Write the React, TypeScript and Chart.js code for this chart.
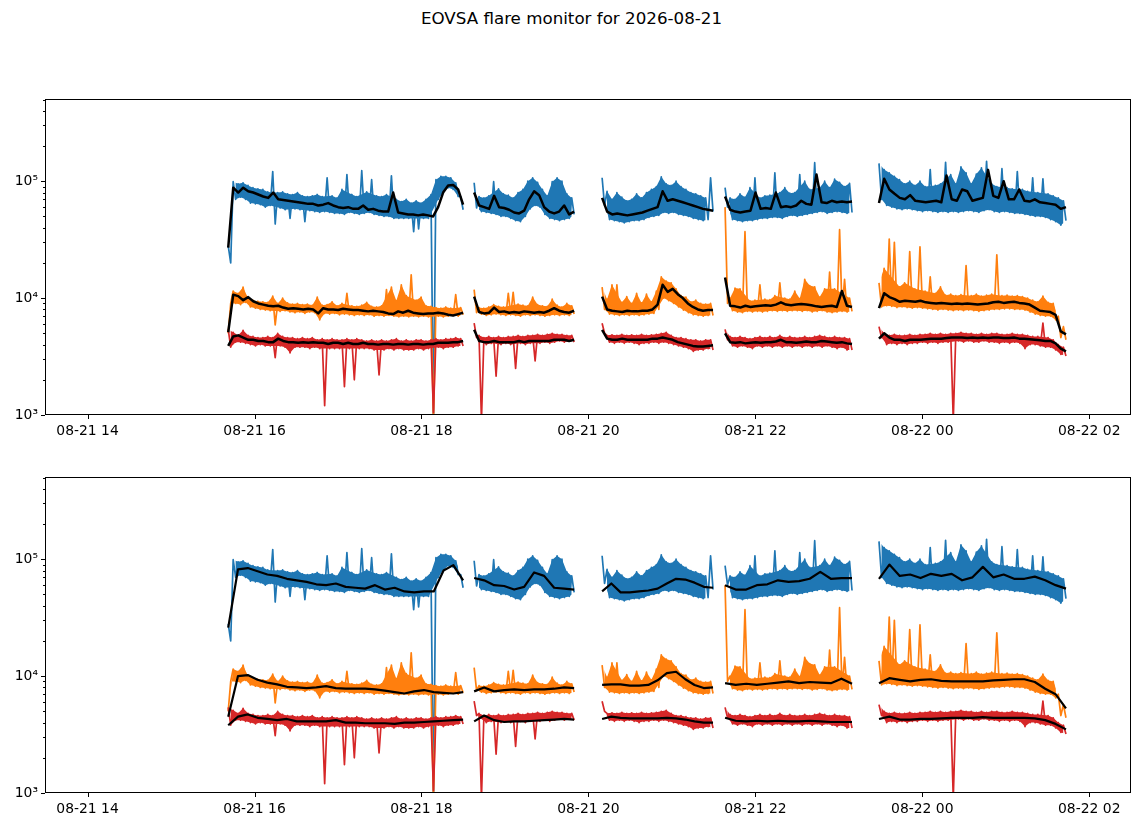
import { useEffect, useRef } from 'react';
import { Chart, registerables } from 'chart.js';

Chart.register(...registerables);
Chart.defaults.font.family = 'DejaVu Sans';
Chart.defaults.color = '#000';

// x axis: hours counted from 2026-08-21 00:00
const tickHours = [14, 16, 18, 20, 22, 24, 26];
const tickLabels = ['08-21 14', '08-21 16', '08-21 18', '08-21 20', '08-21 22', '08-22 00', '08-22 02'];
const yTicks = [1e3, 1e4, 1e5];
const yTickLabels = ['10³', '10⁴', '10⁵'];

// five observing segments (start / end hour)
const segStart = [15.685, 18.631, 20.164, 21.637, 23.481];
const segEnd = [18.499, 19.829, 21.493, 23.158, 25.721];

// raw flux, in thousands; even samples (hi) and odd samples (lo) of each segment
const blueHi = [
  [28, 99, 95, 97, 92, 88, 86, 85, 81, 121, 80, 81, 78, 77, 80, 75, 74, 75, 77, 74, 107, 75, 72, 85, 114, 77, 74, 123, 81, 103, 75, 74, 77, 111, 70, 67, 70, 65, 68, 65, 70, 77, 103, 110, 110, 107, 97, 74],
  [97, 74, 72, 75, 99, 86, 78, 76, 72, 80, 85, 100, 107, 98, 85, 75, 99, 107, 100, 78, 72],
  [107, 82, 70, 80, 73, 68, 70, 78, 72, 80, 85, 90, 109, 95, 92, 100, 90, 85, 80, 78, 75, 72, 107],
  [88, 72, 70, 78, 73, 88, 107, 72, 75, 76, 118, 80, 88, 79, 80, 114, 100, 85, 144, 88, 100, 88, 104, 98, 90, 96],
  [142, 126, 118, 110, 103, 95, 100, 92, 100, 90, 126, 92, 95, 145, 114, 95, 133, 118, 95, 115, 130, 148, 95, 90, 128, 88, 86, 121, 85, 82, 107, 80, 105, 78, 75, 72, 68],
];
const blueLo = [
  [20, 70, 73, 70, 65, 64, 63, 60, 62, 43, 59, 57, 48, 58, 57, 45, 56, 55, 54, 55, 54, 53, 53, 52, 54, 53, 52, 53, 54, 52, 51, 50, 50, 48, 48, 48, 48, 37, 39, 48, 48, 0.9, 70, 81, 88, 85, 74, 57],
  [59, 55, 54, 53, 52, 50, 50, 48, 46, 45, 50, 58, 62, 60, 52, 48, 47, 46, 47, 48, 52],
  [62, 47, 46, 45, 44, 45, 46, 46, 47, 49, 50, 51, 54, 53, 54, 52, 51, 50, 48, 47, 46, 47, 55],
  [60, 47, 46, 45, 46, 46, 47, 48, 48, 49, 49, 48, 50, 51, 50, 51, 52, 53, 54, 55, 53, 54, 55, 54, 53, 54],
  [70, 62, 60, 58, 57, 58, 57, 56, 55, 56, 55, 54, 55, 54, 55, 54, 55, 56, 55, 54, 56, 57, 55, 54, 55, 54, 53, 53, 52, 51, 50, 50, 49, 47, 45, 42, 46],
];
const orangeHi = [
  [5.0, 11.5, 11.0, 12.4, 10.0, 9.6, 9.4, 9.3, 9.2, 10.4, 9.0, 10.0, 9.1, 8.9, 9.0, 8.8, 8.9, 8.7, 10.2, 8.7, 8.8, 9.3, 8.6, 9.0, 11.0, 8.6, 8.5, 8.7, 9.2, 8.5, 8.4, 8.6, 11.8, 12.4, 9.5, 13.0, 10.5, 15.8, 9.6, 10.2, 8.6, 8.5, 8.3, 8.2, 8.4, 8.2, 10.7, 8.3],
  [11.8, 8.3, 8.2, 8.4, 8.8, 8.5, 8.4, 11.0, 11.2, 8.9, 8.7, 8.6, 10.2, 8.8, 8.6, 8.5, 9.8, 8.7, 8.4, 9.0, 8.6],
  [12.4, 9.8, 13.0, 13.0, 9.2, 10.3, 9.0, 11.0, 9.1, 10.8, 9.3, 11.5, 15.2, 14.0, 13.5, 12.0, 10.5, 10.2, 9.3, 9.6, 9.0, 8.9, 9.0],
  [60, 10.0, 12.2, 12.0, 37, 9.5, 9.6, 13.0, 9.8, 9.7, 10.5, 13.5, 10.0, 9.8, 11.5, 9.9, 14.5, 12.8, 12.5, 10.2, 12.0, 16.7, 12.0, 38.5, 14.5, 10.0],
  [13.5, 18, 32, 30, 12.5, 13.5, 25, 12.0, 27.5, 11.5, 15.2, 11.0, 12.5, 10.6, 10.8, 10.5, 10.7, 19, 10.5, 10.8, 10.4, 10.6, 10.8, 23.5, 10.5, 10.6, 10.4, 10.5, 10.3, 10.0, 9.6, 9.3, 10.4, 9.2, 9.0, 7.0, 5.7],
];
const orangeLo = [
  [9.0, 9.0, 8.8, 9.2, 8.4, 8.2, 8.0, 7.9, 7.8, 5.9, 7.7, 7.8, 7.6, 7.5, 7.6, 7.4, 7.6, 7.5, 6.5, 7.4, 7.3, 7.4, 7.2, 7.3, 7.2, 7.1, 7.2, 7.1, 7.2, 7.0, 7.1, 7.0, 7.1, 7.0, 6.9, 7.0, 6.9, 7.0, 6.9, 7.0, 6.9, 0.9, 7.0, 6.9, 7.0, 7.1, 7.0, 7.2],
  [7.5, 7.3, 7.1, 7.2, 7.3, 7.2, 7.1, 7.2, 7.1, 7.0, 7.2, 7.1, 7.2, 7.1, 7.0, 7.1, 7.2, 7.1, 7.2, 7.1, 7.3],
  [8.0, 7.3, 7.2, 7.1, 7.2, 7.1, 7.2, 7.1, 7.2, 7.3, 7.4, 8.0, 10.0, 9.5, 9.0, 8.4, 7.9, 7.5, 7.2, 7.1, 7.0, 7.1, 7.1],
  [9.0, 7.8, 7.6, 7.5, 7.7, 7.6, 7.7, 7.6, 7.7, 7.8, 7.7, 7.8, 7.7, 7.8, 7.8, 7.7, 7.8, 7.6, 7.7, 7.8, 7.6, 7.5, 7.6, 7.7, 7.6, 7.7],
  [8.4, 8.6, 8.5, 8.3, 8.4, 8.3, 8.2, 8.3, 8.2, 8.1, 8.0, 7.9, 8.0, 7.9, 7.8, 7.9, 7.8, 7.9, 7.8, 7.7, 7.8, 7.9, 8.0, 8.0, 8.1, 8.1, 8.0, 8.0, 7.9, 7.6, 7.3, 7.1, 7.0, 7.0, 6.5, 4.6, 4.4],
];
const redHi = [
  [5.4, 5.1, 4.8, 5.3, 4.8, 4.7, 4.6, 4.6, 4.7, 4.6, 5.0, 4.7, 4.6, 4.6, 4.5, 4.6, 4.5, 4.6, 4.4, 4.5, 4.4, 4.5, 4.4, 4.4, 4.5, 4.4, 4.5, 4.4, 4.3, 4.4, 4.3, 4.4, 4.3, 4.4, 4.5, 4.3, 4.4, 4.3, 4.4, 4.4, 4.3, 4.4, 4.5, 4.4, 4.5, 4.5, 4.6, 4.5],
  [6.1, 4.8, 4.6, 4.7, 4.6, 4.7, 4.6, 4.7, 4.7, 4.8, 4.7, 4.8, 4.8, 4.9, 4.8, 4.9, 5.0, 4.9, 4.9, 4.8, 4.8],
  [6.1, 4.8, 4.85, 4.8, 4.9, 4.8, 4.85, 4.8, 4.9, 4.8, 4.85, 4.9, 5.0, 5.1, 4.8, 4.6, 4.6, 4.5, 4.4, 4.4, 4.3, 4.4, 4.4],
  [5.4, 4.7, 4.6, 4.7, 4.6, 4.5, 4.6, 4.7, 4.6, 4.7, 4.6, 4.8, 4.6, 4.7, 4.6, 4.6, 4.7, 4.6, 4.7, 4.8, 4.7, 4.6, 4.7, 4.6, 4.6, 4.5],
  [5.7, 5.0, 4.8, 4.9, 4.8, 4.8, 4.9, 4.8, 4.9, 4.9, 5.0, 4.9, 5.0, 4.9, 5.0, 5.0, 5.1, 5.0, 5.0, 4.9, 5.0, 4.9, 5.0, 5.0, 4.9, 4.9, 5.0, 4.9, 4.9, 4.8, 4.7, 4.7, 6.1, 4.6, 4.4, 4.0, 3.8],
];
const redLo = [
  [3.8, 4.2, 4.2, 4.1, 4.0, 3.9, 4.0, 3.9, 3.9, 3.1, 3.9, 3.8, 3.4, 3.8, 3.8, 3.8, 3.7, 3.8, 3.7, 1.2, 3.7, 3.7, 3.7, 1.75, 3.7, 2.0, 3.7, 3.7, 3.7, 3.6, 2.2, 3.6, 3.7, 3.6, 3.7, 3.6, 3.6, 3.6, 3.7, 3.6, 3.7, 1.05, 3.8, 3.7, 3.8, 3.8, 3.9, 3.9],
  [4.6, 0.9, 4.0, 4.1, 2.15, 4.0, 4.1, 4.0, 2.5, 4.1, 4.0, 4.1, 2.9, 4.1, 4.2, 4.1, 4.2, 4.3, 4.2, 4.3, 4.2],
  [5.0, 4.2, 4.1, 4.2, 4.1, 4.2, 4.1, 4.0, 4.1, 4.1, 4.2, 4.1, 4.2, 4.1, 4.0, 3.9, 3.8, 3.7, 3.5, 3.6, 3.6, 3.7, 3.6],
  [4.4, 3.9, 3.8, 3.9, 3.8, 3.7, 3.9, 3.8, 3.9, 3.8, 3.9, 3.8, 3.9, 3.8, 3.9, 3.8, 3.9, 3.8, 3.9, 3.8, 3.9, 3.8, 3.7, 3.8, 3.6, 3.6],
  [4.6, 4.0, 4.1, 4.0, 4.1, 4.0, 4.1, 4.1, 4.2, 4.1, 4.2, 4.1, 4.2, 4.2, 0.9, 4.3, 4.2, 4.3, 4.2, 4.2, 4.3, 4.2, 4.2, 4.1, 4.2, 4.1, 4.2, 4.1, 3.7, 4.0, 4.0, 3.9, 3.8, 3.8, 3.6, 3.3, 3.2],
];

// black running medians, upper panel (short window)
const blueTop = [
  [27, 88, 80, 88, 82, 80, 77, 74, 72, 80, 70, 69, 68, 67, 66, 65, 64, 64, 62, 63, 65, 62, 60, 59, 60, 58, 58, 62, 57, 58, 56, 55, 55, 80, 54, 53, 52, 52, 51, 52, 51, 50, 60, 80, 92, 93, 85, 63],
  [80, 62, 60, 58, 75, 60, 59, 57, 54, 53, 56, 70, 82, 76, 60, 55, 53, 55, 62, 52, 55],
  [72, 55, 52, 53, 52, 51, 52, 53, 54, 56, 58, 60, 82, 68, 70, 68, 66, 64, 62, 60, 58, 57, 56],
  [74, 57, 55, 54, 55, 56, 80, 58, 59, 58, 80, 60, 61, 60, 62, 68, 64, 63, 114, 66, 65, 68, 66, 67, 66, 67],
  [65, 105, 85, 78, 72, 70, 76, 68, 67, 66, 67, 68, 66, 112, 70, 68, 85, 82, 68, 70, 72, 125, 75, 72, 100, 70, 70, 85, 68, 67, 70, 66, 65, 64, 63, 58, 60],
];
const orangeTop = [
  [5.1, 10.7, 10.4, 9.6, 10.2, 9.4, 9.0, 8.8, 8.6, 8.5, 8.6, 8.3, 8.1, 8.2, 8.1, 8.0, 8.1, 8.0, 7.4, 8.2, 8.0, 8.0, 7.9, 8.1, 8.0, 7.9, 7.9, 7.8, 7.7, 7.8, 7.7, 7.6, 7.4, 7.3, 7.7, 7.5, 7.8, 7.5, 7.4, 7.3, 7.4, 7.4, 7.5, 7.4, 7.2, 7.1, 7.3, 7.5],
  [10.3, 7.6, 7.4, 7.5, 8.3, 7.6, 7.7, 7.5, 7.6, 7.5, 7.7, 7.6, 7.5, 7.6, 7.5, 7.8, 8.2, 7.8, 7.6, 7.5, 7.8],
  [10.3, 8.0, 7.8, 7.7, 7.6, 7.8, 7.7, 7.7, 7.8, 7.8, 8.0, 8.8, 13.0, 11.3, 12.0, 10.8, 10.0, 9.0, 8.4, 8.0, 7.8, 7.9, 7.9],
  [15, 8.6, 8.5, 8.3, 8.6, 8.4, 8.5, 8.6, 8.7, 8.6, 8.8, 9.2, 8.8, 8.7, 8.8, 8.9, 8.8, 8.7, 8.5, 8.4, 8.5, 8.6, 8.4, 11.5, 8.6, 8.4],
  [8.2, 11.0, 10.2, 9.8, 9.3, 9.5, 9.4, 9.3, 9.5, 9.2, 9.1, 9.0, 9.1, 9.0, 8.9, 9.0, 8.9, 9.0, 8.9, 8.8, 8.9, 9.0, 9.2, 9.3, 9.1, 9.2, 9.3, 9.1, 9.0, 8.8, 8.3, 7.8, 7.7, 7.6, 7.2, 5.2, 4.9],
];
const redTop = [
  [3.9, 4.7, 4.8, 4.6, 4.4, 4.4, 4.3, 4.3, 4.2, 4.2, 4.5, 4.3, 4.2, 4.2, 4.15, 4.2, 4.15, 4.2, 4.15, 4.15, 4.05, 4.15, 4.15, 4.05, 4.15, 4.05, 4.05, 4.15, 4.05, 4.05, 4.0, 4.05, 4.05, 4.0, 4.05, 4.05, 4.0, 4.05, 4.05, 4.0, 4.05, 4.05, 4.15, 4.15, 4.15, 4.2, 4.2, 4.3],
  [5.35, 4.3, 4.2, 4.2, 4.3, 4.2, 4.2, 4.2, 4.2, 4.3, 4.2, 4.3, 4.3, 4.3, 4.3, 4.3, 4.4, 4.4, 4.4, 4.3, 4.4],
  [5.35, 4.5, 4.4, 4.4, 4.5, 4.4, 4.4, 4.4, 4.4, 4.4, 4.5, 4.5, 4.6, 4.5, 4.4, 4.2, 4.1, 4.0, 3.9, 3.85, 3.85, 3.9, 3.95],
  [5.0, 4.2, 4.15, 4.2, 4.1, 4.15, 4.2, 4.15, 4.2, 4.2, 4.25, 4.4, 4.2, 4.2, 4.15, 4.2, 4.25, 4.2, 4.2, 4.3, 4.25, 4.2, 4.15, 4.2, 4.1, 4.05],
  [4.5, 5.0, 4.6, 4.4, 4.4, 4.3, 4.4, 4.4, 4.4, 4.45, 4.5, 4.5, 4.5, 4.55, 4.6, 4.6, 4.6, 4.55, 4.6, 4.55, 4.6, 4.55, 4.6, 4.6, 4.55, 4.55, 4.6, 4.5, 4.5, 4.45, 4.4, 4.35, 4.3, 4.3, 4.1, 3.7, 3.5],
];

// black running medians, lower panel (long window)
const blueBottom = [
  [26, 82, 84, 79, 74, 72, 68, 66, 64, 61, 60, 62, 58, 57, 56, 60, 55, 57, 53, 52, 53, 53, 80, 89, 66],
  [69, 66, 60, 59, 55, 58, 77, 72, 57, 56, 55],
  [53, 62, 52, 52, 53, 54, 56, 62, 68, 67, 63, 58, 57],
  [60, 55, 55, 60, 61, 66, 64, 65, 68, 78, 68, 69, 69],
  [68, 90, 72, 74, 69, 75, 72, 75, 66, 70, 86, 70, 74, 68, 68, 71, 66, 60, 56],
];
const orangeBottom = [
  [4.5, 10.0, 10.2, 9.3, 8.8, 8.5, 8.1, 8.0, 7.9, 8.0, 8.2, 7.9, 7.8, 7.8, 7.8, 7.7, 7.5, 7.3, 7.1, 7.4, 7.6, 7.3, 7.2, 7.1, 7.3],
  [7.4, 8.0, 7.4, 7.6, 7.7, 7.6, 7.7, 7.7, 7.8, 8.0, 7.9],
  [8.4, 8.5, 8.5, 8.3, 8.3, 8.4, 9.2, 10.6, 10.9, 9.4, 8.4, 7.9, 8.0],
  [8.7, 8.4, 8.6, 8.4, 8.6, 8.8, 9.0, 8.7, 8.9, 8.8, 8.7, 9.5, 8.6],
  [8.7, 9.6, 9.3, 9.0, 9.3, 9.4, 9.1, 9.0, 9.0, 9.0, 9.0, 9.2, 9.3, 9.4, 9.4, 8.9, 7.8, 7.0, 5.3],
];
const redBottom = [
  [3.8, 4.5, 4.7, 4.4, 4.3, 4.2, 4.3, 4.1, 4.1, 4.1, 4.1, 4.2, 4.0, 4.0, 3.95, 3.95, 3.95, 3.9, 4.0, 4.0, 4.05, 4.1, 4.15, 4.2, 4.25],
  [4.1, 4.6, 4.2, 4.05, 4.1, 4.1, 4.15, 4.2, 4.25, 4.3, 4.25],
  [4.3, 4.5, 4.4, 4.35, 4.35, 4.35, 4.35, 4.4, 4.35, 4.25, 4.1, 4.0, 4.0],
  [4.4, 4.15, 4.1, 4.15, 4.1, 4.15, 4.1, 4.1, 4.15, 4.1, 4.05, 4.05, 4.05],
  [4.3, 4.5, 4.25, 4.25, 4.3, 4.3, 4.35, 4.4, 4.4, 4.4, 4.45, 4.4, 4.4, 4.4, 4.4, 4.35, 4.2, 3.9, 3.5],
];

type Pt = { x: number; y: number | null };
type Keep = (vals: number[], i: number) => boolean;

// spread each segment's samples over its time span, break the line between segments;
// `only` keeps one of the interleaved columns at its own times, `keep` can drop outliers
function series(segs: number[][][], only = -1, keep?: Keep): Pt[] {
  const pts: Pt[] = [];
  segStart.forEach((t0, s) => {
    const cols = segs.map((a) => a[s]);
    const n = cols[0].length * cols.length;
    const dt = (segEnd[s] - t0) / (n - 1);
    let k = 0;
    cols[0].forEach((_, i) => {
      cols.forEach((c, j) => {
        if (only < 0 || (only === j && (!keep || keep(c, i)))) pts.push({ x: t0 + k * dt, y: c[i] * 1000 });
        k++;
      });
    });
    if (s < segStart.length - 1) pts.push({ x: (segEnd[s] + segStart[s + 1]) / 2, y: null });
  });
  return pts;
}

const localMedian = (vals: number[], i: number) => {
  const near = [vals[i - 2], vals[i - 1], vals[i + 1], vals[i + 2]].filter((v) => v !== undefined).sort((a, b) => a - b);
  return near[Math.floor(near.length / 2)];
};
// the solid band skips isolated spikes / dips; the zig-zag stroke still draws them
const notSpike: Keep = (vals, i) => vals[i] <= 1.2 * localMedian(vals, i);
const notDip: Keep = (vals, i) => vals[i] >= 0.85 * localMedian(vals, i);

const framePlugin = {
  id: 'frame',
  afterDraw(chart: any) {
    const { ctx, chartArea: a, scales } = chart;
    ctx.save();
    ctx.strokeStyle = '#000';
    ctx.lineWidth = 1;
    ctx.strokeRect(Math.round(a.left) + 0.5, Math.round(a.top) + 0.5, Math.round(a.right - a.left) - 1, Math.round(a.bottom - a.top) - 1);
    ctx.beginPath();
    tickHours.forEach((h) => {
      const px = Math.round(scales.x.getPixelForValue(h)) + 0.5;
      ctx.moveTo(px, a.bottom);
      ctx.lineTo(px, a.bottom + 4);
    });
    yTicks.forEach((d) => {
      for (let k = 1; k <= 9; k++) {
        const v = k * d;
        if (v > scales.y.max) break;
        const py = Math.round(scales.y.getPixelForValue(v)) + 0.5;
        ctx.moveTo(a.left, py);
        ctx.lineTo(a.left - (k === 1 ? 4 : 2), py);
      }
    });
    ctx.stroke();
    ctx.restore();
  },
};

const line = (data: Pt[], color: string, width: number, order: number, fill: any = false) => ({
  data,
  borderColor: color,
  backgroundColor: color,
  borderWidth: width,
  pointRadius: 0,
  tension: 0,
  fill,
  spanGaps: false,
  borderJoinStyle: 'round' as const,
  order,
});

// raw trace: solid band between upper and lower samples, zig-zag stroke on top
const raw = (hi: number[][], lo: number[][], color: string, order: number) => [
  line(series([hi, lo], 0, notSpike), color, 0, order, '+1'),
  line(series([hi, lo], 1, notDip), color, 0, order),
  line(series([hi, lo]), color, 1.7, order),
];

function Panel({ top, blacks, blackWidth }: { top: number; blacks: number[][][][]; blackWidth: number }) {
  const ref = useRef<HTMLCanvasElement>(null);
  const chartRef = useRef<Chart | null>(null);

  useEffect(() => {
    if (!ref.current) return;
    chartRef.current?.destroy();
    chartRef.current = new Chart(ref.current, {
      type: 'line',
      data: {
        datasets: [
          ...raw(blueHi, blueLo, '#1f77b4', 3),
          ...raw(orangeHi, orangeLo, '#ff7f0e', 2),
          ...raw(redHi, redLo, '#d62728', 1),
          line(series([blacks[0]]), '#000000', blackWidth, 0),
          line(series([blacks[1]]), '#000000', blackWidth, 0),
          line(series([blacks[2]]), '#000000', blackWidth, 0),
        ] as any,
      },
      options: {
        responsive: false,
        animation: false,
        devicePixelRatio: 1,
        events: [],
        layout: { padding: { left: 0, top: 9, right: 12, bottom: 0 } },
        plugins: { legend: { display: false }, tooltip: { enabled: false }, filler: { propagate: false } },
        scales: {
          x: {
            type: 'linear',
            min: 13.49,
            max: 26.5,
            afterBuildTicks: (s: any) => { s.ticks = tickHours.map((v) => ({ value: v })); },
            afterFit: (s: any) => { s.height = 35; s.paddingLeft = 0; s.paddingRight = 0; },
            grid: { display: false, drawTicks: false },
            border: { display: false },
            ticks: {
              autoSkip: false,
              maxRotation: 0,
              padding: 8,
              font: { size: 13.9 },
              color: '#000',
              callback: (v: any) => tickLabels[tickHours.indexOf(Number(v))],
            },
          },
          y: {
            type: 'logarithmic',
            min: 1000,
            max: 505000,
            afterBuildTicks: (s: any) => { s.ticks = yTicks.map((v) => ({ value: v })); },
            afterFit: (s: any) => { s.width = 45; s.paddingTop = 0; s.paddingBottom = 0; },
            grid: { display: false, drawTicks: false },
            border: { display: false },
            ticks: {
              autoSkip: false,
              padding: 7,
              font: { size: 13.9 },
              color: '#000',
              callback: (v: any) => yTickLabels[yTicks.indexOf(Number(v))],
            },
          },
        },
      } as any,
      plugins: [framePlugin],
    });
    return () => { chartRef.current?.destroy(); };
  }, []);

  return (
    <canvas
      ref={ref}
      width={1143}
      height={360}
      style={{ position: 'absolute', left: 0, top, width: 1143, height: 360, display: 'block' }}
    />
  );
}

export default function App() {
  return (
    <div style={{ position: 'absolute', left: 0, top: 0, width: 1143, height: 826, background: '#fff', overflow: 'hidden' }}>
      <div
        style={{
          position: 'absolute', left: 0, top: 8, width: 1143, textAlign: 'center',
          fontFamily: 'DejaVu Sans', fontSize: 16.7, lineHeight: '20px', color: '#000',
        }}
      >
        EOVSA flare monitor for 2026-08-21
      </div>
      <Panel top={90} blacks={[blueTop, orangeTop, redTop]} blackWidth={2.5} />
      <Panel top={468} blacks={[blueBottom, orangeBottom, redBottom]} blackWidth={2.2} />
    </div>
  );
}
